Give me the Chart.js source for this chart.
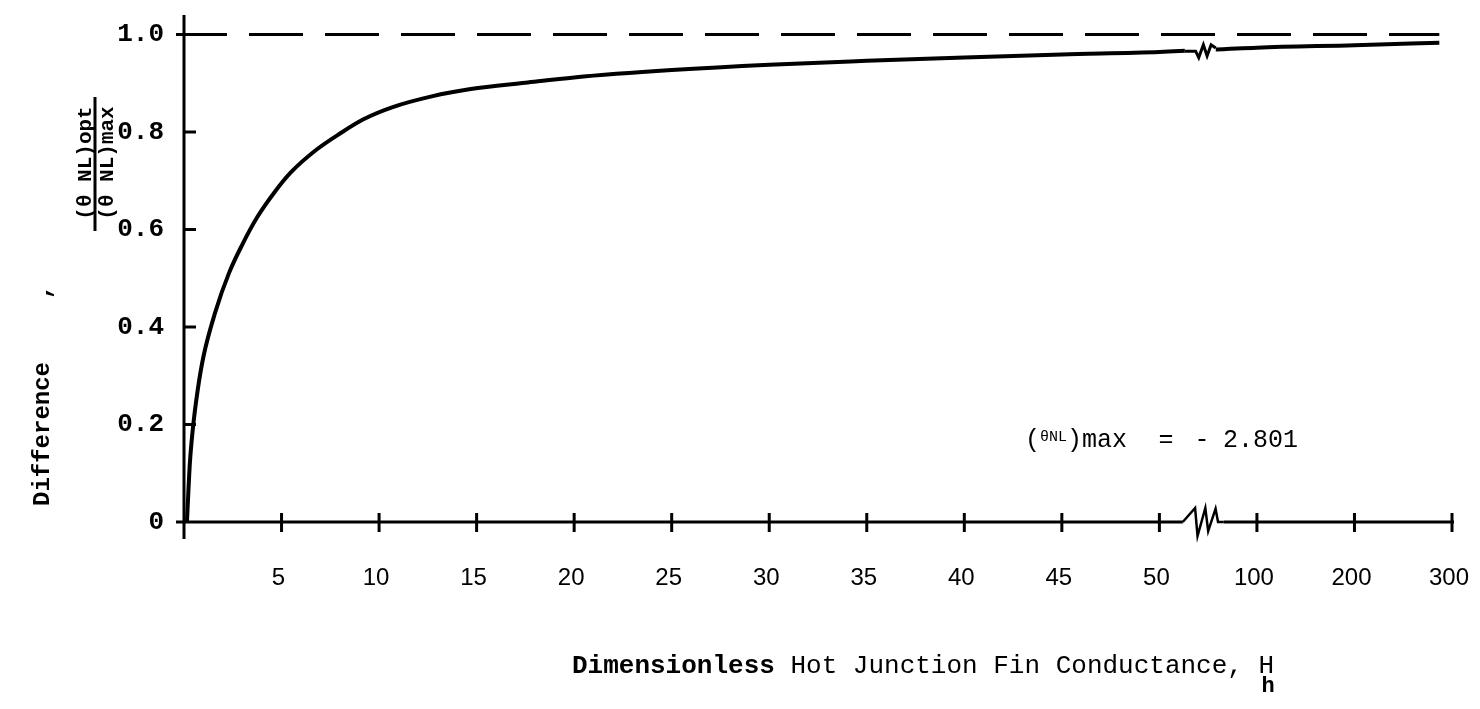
<!DOCTYPE html>
<html>
<head>
<meta charset="utf-8">
<script src="https://cdn.jsdelivr.net/npm/chart.js@4.4.1/dist/chart.umd.min.js"></script>
<style>
html, body { margin: 0; padding: 0; background: #fff; }
#wrap { width: 1480px; height: 709px; position: relative; }
</style>
</head>
<body>
<div id="wrap"><canvas id="myChart"></canvas></div>
<script>
// (theta NL)opt / (theta NL)max against hot junction fin conductance H_h
const conductance = [0.15, 0.3, 0.45, 0.7, 1.0, 1.6, 2.3, 3.0, 3.75, 4.65, 5.5, 6.8, 8.0, 9.2, 10.7, 12.7, 14.7, 17.5, 20, 25, 30, 35, 40, 45, 50, 100, 200, 287];
const ratio = [0, 0.12, 0.19, 0.27, 0.34, 0.43, 0.51, 0.57, 0.625, 0.677, 0.718, 0.764, 0.797, 0.826, 0.851, 0.873, 0.888, 0.901, 0.912, 0.927, 0.938, 0.946, 0.953, 0.959, 0.964, 0.973, 0.978, 0.983];

// asymptote (theta NL)max
const limitX = [0, 287];
const limitY = [1.0, 1.0];

const xTickValues = [5, 10, 15, 20, 25, 30, 35, 40, 45, 50, 100, 200, 300];
const xTickLabels = ['5', '10', '15', '20', '25', '30', '35', '40', '45', '50', '100', '200', '300'];
const yTickValues = [0, 0.2, 0.4, 0.6, 0.8, 1.0];
const yTickLabels = ['0', '0.2', '0.4', '0.6', '0.8', '1.0'];

const thetaMax = '2.801';

// axis is linear up to 50, then broken; 100, 200, 300 sit one tick step apart
function axisPos(h) {
    return h <= 50 ? h : 50 + h / 20;
}
const breakFrom = 51.2;
const breakTo = 53.3;

const mono = "'Liberation Mono', 'DejaVu Sans Mono', monospace";

function zigzag(ctx, x0, x1, y, amp, pts) {
    ctx.beginPath();
    pts.forEach((p, i) => {
        const px = x0 + (x1 - x0) * p[0];
        const py = y + amp * p[1];
        if (i === 0) ctx.moveTo(px, py); else ctx.lineTo(px, py);
    });
    ctx.stroke();
}

function noEdgePadding(scale) {
    scale.paddingTop = 0;
    scale.paddingBottom = 0;
    scale.paddingLeft = 0;
    scale.paddingRight = 0;
}

const axesPlugin = {
    id: 'axesPlugin',
    afterDatasetsDraw(chart) {
        const ctx = chart.ctx;
        const xs = chart.scales.x, ys = chart.scales.y;
        const x0 = xs.getPixelForValue(0);
        const y0 = ys.getPixelForValue(0);
        const bx0 = xs.getPixelForValue(breakFrom);
        const bx1 = xs.getPixelForValue(breakTo);
        ctx.save();
        ctx.strokeStyle = '#000';
        ctx.lineCap = 'butt';
        ctx.lineWidth = 3;

        // y axis
        ctx.beginPath();
        ctx.moveTo(x0, chart.chartArea.top);
        ctx.lineTo(x0, y0 + 17);
        ctx.stroke();

        // x axis with break
        ctx.beginPath();
        ctx.moveTo(x0 - 8, y0);
        ctx.lineTo(bx0, y0);
        ctx.moveTo(bx1, y0);
        ctx.lineTo(xs.right + 2, y0);
        ctx.stroke();
        ctx.lineWidth = 2.5;
        zigzag(ctx, bx0, bx1, y0, 14, [[0, 0], [0.3, -1], [0.36, 1], [0.55, -1], [0.62, 0.65], [0.8, -0.95], [0.86, 0], [1, 0]]);

        // x tick marks cross the axis
        ctx.lineWidth = 3;
        xTickValues.forEach(v => {
            const px = xs.getPixelForValue(axisPos(v));
            ctx.beginPath();
            ctx.moveTo(px, y0 - 9);
            ctx.lineTo(px, y0 + 10);
            ctx.stroke();
        });

        // y tick marks point inward, the top one crosses
        yTickValues.forEach(v => {
            if (v === 0) return;
            const py = ys.getPixelForValue(v);
            ctx.beginPath();
            ctx.moveTo(v === 1.0 ? x0 - 8 : x0, py);
            ctx.lineTo(x0 + 12, py);
            ctx.stroke();
        });

        // break on the curve
        const cy = ys.getPixelForValue(0.969);
        ctx.fillStyle = '#fff';
        ctx.fillRect(bx0 + 2, cy - 7, bx1 - bx0 - 10, 14);
        ctx.lineWidth = 3;
        zigzag(ctx, bx0 + 2, bx1 - 8, cy, 8, [[0, 0.2], [0.35, 0.2], [0.45, 1], [0.6, -0.6], [0.72, 0.8], [0.85, -0.6], [1, -0.2]]);
        ctx.restore();
    },
    afterDraw(chart) {
        const ctx = chart.ctx;
        ctx.save();
        ctx.fillStyle = '#000';
        ctx.strokeStyle = '#000';

        // y title, rotated
        ctx.save();
        ctx.translate(43, 434);
        ctx.rotate(-Math.PI / 2);
        ctx.font = 'bold 24px ' + mono;
        ctx.textAlign = 'center';
        ctx.textBaseline = 'middle';
        ctx.fillText('Difference', 0, 0);
        ctx.restore();

        ctx.save();
        ctx.translate(44, 292);
        ctx.rotate(-Math.PI / 2);
        ctx.font = 'bold 24px ' + mono;
        ctx.textAlign = 'center';
        ctx.textBaseline = 'middle';
        ctx.fillText(',', 0, 0);
        ctx.restore();

        ctx.save();
        ctx.translate(95, 163);
        ctx.rotate(-Math.PI / 2);
        ctx.font = 'bold 21px ' + mono;
        ctx.textAlign = 'center';
        ctx.textBaseline = 'alphabetic';
        ctx.fillText('(\u03B8 NL)opt', 0, -4);
        ctx.textBaseline = 'top';
        ctx.fillText('(\u03B8 NL)max', 0, 2);
        ctx.lineWidth = 3;
        ctx.beginPath();
        ctx.moveTo(-68, 0);
        ctx.lineTo(66, 0);
        ctx.stroke();
        ctx.restore();

        // x title with subscript
        ctx.font = 'bold 26px ' + mono;
        ctx.textBaseline = 'middle';
        ctx.textAlign = 'left';
        const t1 = 'Dimensionless';
        ctx.fillText(t1, 572, 666);
        let x = 572 + ctx.measureText(t1 + ' ').width;
        ctx.font = '26px ' + mono;
        ctx.fillText('Hot Junction Fin Conductance, H', x, 666);
        x += ctx.measureText('Hot Junction Fin Conductance, ').width;
        ctx.font = 'bold 22px ' + mono;
        ctx.fillText('h', x + 3, 686);

        // annotation
        const ax = 1025, ay = 440;
        ctx.font = '25px ' + mono;
        ctx.fillText('(', ax, ay);
        let w = ctx.measureText('(').width;
        ctx.font = '15px ' + mono;
        ctx.fillText('\u03B8NL', ax + w, ay - 3);
        w += ctx.measureText('\u03B8NL').width;
        ctx.font = '25px ' + mono;
        ctx.fillText(')max', ax + w, ay);
        ctx.textAlign = 'center';
        ctx.fillText('=', 1166, ay);
        ctx.fillText('-', 1202, ay);
        ctx.textAlign = 'right';
        ctx.fillText(thetaMax, 1298, ay);
        ctx.restore();
    }
};

const data = {
    datasets: [{
        label: 'ratio',
        data: conductance.map((h, i) => ({ x: axisPos(h), y: ratio[i] })),
        borderColor: '#000',
        borderWidth: 4,
        pointRadius: 0,
        cubicInterpolationMode: 'monotone',
        fill: false,
        clip: false
    }, {
        label: 'limit',
        data: limitX.map((h, i) => ({ x: axisPos(h), y: limitY[i] })),
        borderColor: '#000',
        borderWidth: 3,
        borderDash: [54, 22],
        borderDashOffset: 11,
        pointRadius: 0,
        fill: false,
        clip: false
    }]
};

const config = {
    type: 'line',
    data: data,
    options: {
        responsive: true,
        maintainAspectRatio: false,
        animation: false,
        layout: { padding: { top: 15, right: 28, left: 0, bottom: 0 } },
        plugins: { legend: { display: false }, tooltip: { enabled: false } },
        scales: {
            x: {
                type: 'linear',
                min: 0,
                max: 65,
                grid: { display: false, drawTicks: false },
                border: { display: false },
                afterBuildTicks: scale => { scale.ticks = xTickValues.map(v => ({ value: axisPos(v) })); },
                afterFit: scale => { scale.height = 187; noEdgePadding(scale); },
                ticks: {
                    autoSkip: false,
                    maxRotation: 0,
                    padding: 42,
                    labelOffset: -3,
                    color: '#000',
                    font: { family: "'Liberation Sans', Arial, sans-serif", size: 24 },
                    callback: (v, i) => xTickLabels[i]
                }
            },
            y: {
                min: 0,
                max: 1.04,
                grid: { display: false, drawTicks: false },
                border: { display: false },
                afterBuildTicks: scale => { scale.ticks = yTickValues.map(v => ({ value: v })); },
                afterFit: scale => { scale.width = 184; noEdgePadding(scale); },
                ticks: {
                    padding: 20,
                    color: '#000',
                    font: { family: mono, size: 26, weight: 'bold' },
                    callback: (v, i) => yTickLabels[i]
                }
            }
        }
    },
    plugins: [axesPlugin]
};

const myChart = new Chart(document.getElementById('myChart'), config);
</script>
</body>
</html>
